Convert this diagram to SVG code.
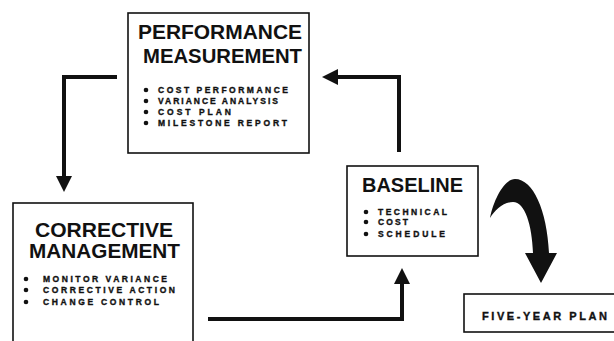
<svg xmlns="http://www.w3.org/2000/svg" width="614" height="341" viewBox="0 0 614 341">
<style>
.box{fill:#fff;stroke:#111;stroke-width:1.6}
.title{font-family:"Liberation Sans",Arial,sans-serif;font-weight:bold;font-size:20px;fill:#111}
.item{font-family:"Liberation Sans",Arial,sans-serif;font-weight:bold;font-size:8.5px;fill:#111;stroke:#111;stroke-width:0.35}
.bul{fill:#111}
.conn{fill:none;stroke:#111;stroke-width:4;stroke-linejoin:miter}
</style>
<defs>
<marker id="ah" viewBox="0 0 16 16" refX="0" refY="8" markerWidth="16" markerHeight="16" markerUnits="userSpaceOnUse" orient="auto">
<path d="M0,0 L16,8 L0,16 Z" fill="#111"/>
</marker>
</defs>
<rect width="614" height="341" fill="#fff"/>
<g id="connectors">
<path class="conn" d="M399,152 L399,77 L338,77" marker-end="url(#ah)"/>
<path class="conn" d="M117,77 L64,77 L64,176" marker-end="url(#ah)"/>
<path class="conn" d="M208,319 L402,319 L402,284" marker-end="url(#ah)"/>
<path d="M490,218 C494,198 505,179 515,179 C533,179 547,210 549,253 L557,253 L541,283 L525,253 L533,253 C532,225 525,202 513,202 C503,202 495,210 490,218 Z" fill="#111"/>
</g>
<g id="performance">
<rect class="box" x="128" y="13" width="181" height="140"/>
<text class="title" x="138" y="39" textLength="164" lengthAdjust="spacingAndGlyphs">PERFORMANCE</text>
<text class="title" x="143" y="63" textLength="159" lengthAdjust="spacingAndGlyphs">MEASUREMENT</text>
<circle class="bul" cx="146" cy="90" r="2.3"/>
<circle class="bul" cx="146" cy="101" r="2.3"/>
<circle class="bul" cx="146" cy="112" r="2.3"/>
<circle class="bul" cx="146" cy="123" r="2.3"/>
<text class="item" x="158" y="93" textLength="130" lengthAdjust="spacing">COST PERFORMANCE</text>
<text class="item" x="158" y="104" textLength="120" lengthAdjust="spacing">VARIANCE ANALYSIS</text>
<text class="item" x="158" y="115" textLength="73" lengthAdjust="spacing">COST PLAN</text>
<text class="item" x="158" y="126" textLength="129" lengthAdjust="spacing">MILESTONE REPORT</text>
</g>
<g id="corrective">
<rect class="box" x="13" y="203" width="180" height="145"/>
<text class="title" x="35" y="237" textLength="138" lengthAdjust="spacingAndGlyphs">CORRECTIVE</text>
<text class="title" x="29" y="258" textLength="151" lengthAdjust="spacingAndGlyphs">MANAGEMENT</text>
<circle class="bul" cx="26" cy="279" r="2.3"/>
<circle class="bul" cx="26" cy="290" r="2.3"/>
<circle class="bul" cx="26" cy="302" r="2.3"/>
<text class="item" x="43" y="282" textLength="124" lengthAdjust="spacing">MONITOR VARIANCE</text>
<text class="item" x="43" y="293" textLength="132" lengthAdjust="spacing">CORRECTIVE ACTION</text>
<text class="item" x="43" y="305" textLength="116" lengthAdjust="spacing">CHANGE CONTROL</text>
</g>
<g id="baseline">
<rect class="box" x="347" y="166" width="131" height="90"/>
<text class="title" x="362" y="192" textLength="101" lengthAdjust="spacingAndGlyphs">BASELINE</text>
<circle class="bul" cx="366" cy="212" r="2.3"/>
<circle class="bul" cx="366" cy="222" r="2.3"/>
<circle class="bul" cx="366" cy="234" r="2.3"/>
<text class="item" x="378" y="215" textLength="69" lengthAdjust="spacing">TECHNICAL</text>
<text class="item" x="378" y="225" textLength="30" lengthAdjust="spacing">COST</text>
<text class="item" x="378" y="237" textLength="67" lengthAdjust="spacing">SCHEDULE</text>
</g>
<g id="fiveyear">
<rect class="box" x="464" y="294" width="160" height="38"/>
<text class="item" x="482" y="320" style="font-size:11px" textLength="125" lengthAdjust="spacing">FIVE-YEAR PLAN</text>
</g>
</svg>
